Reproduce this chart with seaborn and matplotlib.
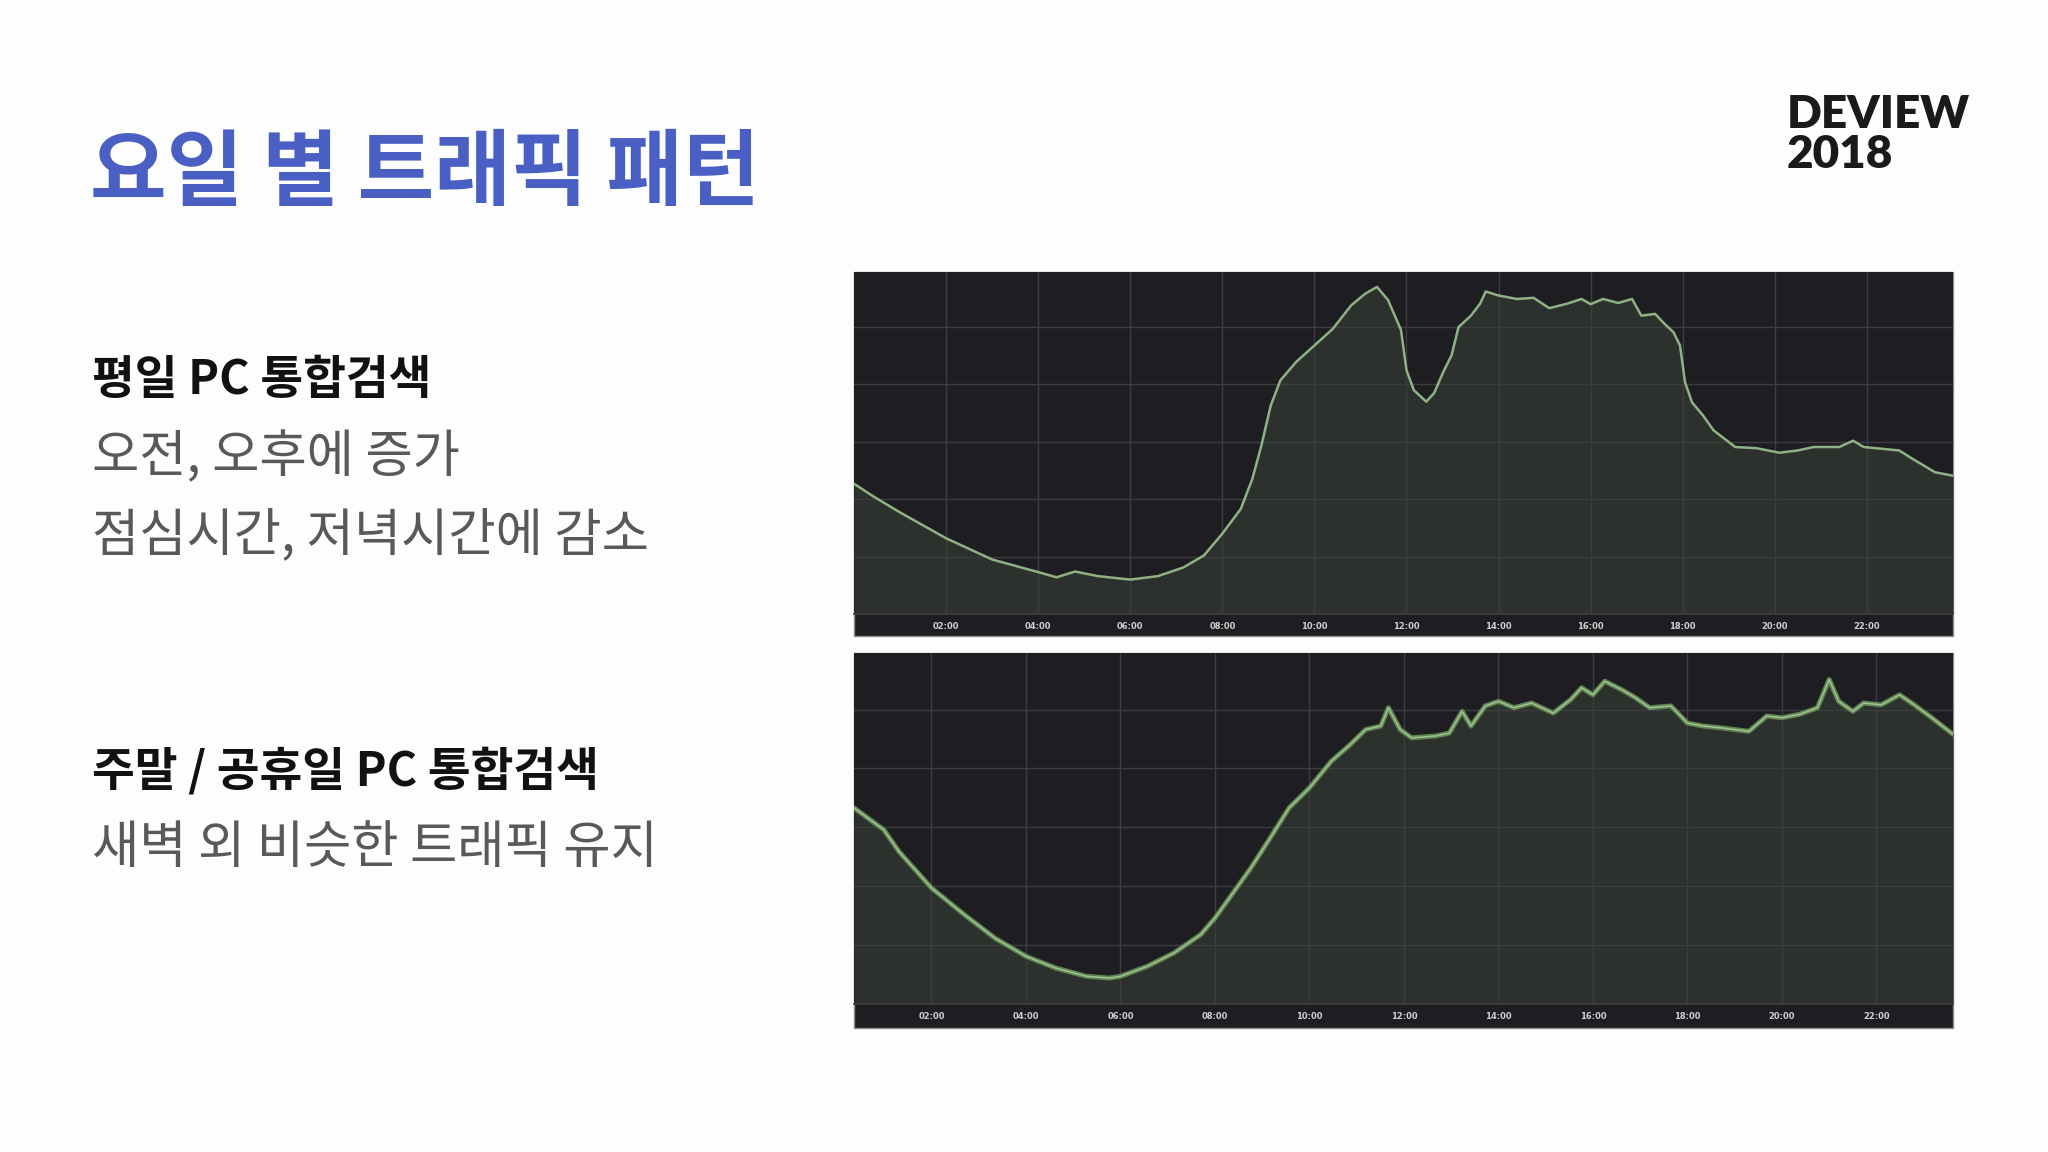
import matplotlib
matplotlib.use("Agg")
import matplotlib.pyplot as plt
import pandas as pd
import seaborn as sns
from matplotlib.patches import Rectangle

# weekday PC search traffic (hour of day, relative level)
weekday_hours = [0.0, 0.4, 1.0, 2.0, 3.0, 4.0, 4.4, 4.8, 5.3, 6.0, 6.6, 7.15, 7.6, 8.0,
                 8.4, 8.65, 8.85, 9.05, 9.26, 9.6, 10.0, 10.4, 10.8, 11.1, 11.36, 11.6,
                 11.88, 12.0, 12.16, 12.43, 12.6, 12.8, 12.98, 13.13, 13.4, 13.6, 13.72,
                 14.0, 14.4, 14.76, 15.1, 15.5, 15.8, 16.0, 16.27, 16.6, 16.9, 17.1, 17.4,
                 17.6, 17.8, 17.94, 18.05, 18.2, 18.44, 18.67, 19.14, 19.6, 20.1, 20.5,
                 20.84, 21.4, 21.7, 21.93, 22.7, 23.0, 23.48, 23.87]
weekday_traffic = [2.27, 2.06, 1.77, 1.32, 0.95, 0.73, 0.64, 0.74, 0.66, 0.60, 0.66, 0.81,
                   1.02, 1.40, 1.83, 2.35, 2.94, 3.63, 4.07, 4.39, 4.68, 4.97, 5.38, 5.58,
                   5.70, 5.47, 4.95, 4.25, 3.90, 3.70, 3.85, 4.22, 4.51, 5.00, 5.20, 5.41,
                   5.62, 5.55, 5.49, 5.51, 5.33, 5.41, 5.49, 5.40, 5.49, 5.42, 5.49, 5.20,
                   5.23, 5.06, 4.91, 4.68, 4.04, 3.69, 3.46, 3.20, 2.91, 2.89, 2.81, 2.85,
                   2.91, 2.91, 3.02, 2.91, 2.85, 2.70, 2.47, 2.41]

# weekend / holiday PC search traffic
weekend_hours = [0.36, 0.75, 0.99, 1.31, 2.0, 2.69, 3.34, 4.0, 4.63, 5.28, 5.77, 6.0, 6.57,
                 7.14, 7.7, 8.0, 8.36, 8.76, 9.17, 9.57, 10.0, 10.46, 10.87, 11.19, 11.51,
                 11.67, 11.92, 12.16, 12.66, 12.96, 13.23, 13.42, 13.72, 14.0, 14.33, 14.7,
                 15.16, 15.53, 15.76, 16.0, 16.25, 16.6, 16.9, 17.2, 17.65, 18.0, 18.33,
                 18.7, 19.3, 19.68, 20.0, 20.38, 20.75, 21.0, 21.2, 21.5, 21.73, 22.1,
                 22.49, 22.8, 23.17, 23.62]
weekend_traffic = [3.33, 3.10, 2.96, 2.59, 1.97, 1.52, 1.12, 0.81, 0.61, 0.47, 0.44, 0.47,
                   0.64, 0.87, 1.18, 1.46, 1.86, 2.31, 2.82, 3.33, 3.67, 4.12, 4.41, 4.66,
                   4.72, 5.03, 4.66, 4.52, 4.55, 4.60, 4.97, 4.72, 5.06, 5.14, 5.03, 5.11,
                   4.94, 5.17, 5.37, 5.25, 5.48, 5.34, 5.20, 5.03, 5.06, 4.77, 4.72, 4.69,
                   4.63, 4.89, 4.86, 4.92, 5.03, 5.51, 5.14, 4.97, 5.11, 5.08, 5.25, 5.08,
                   4.86, 4.58]

tick_hours = [2, 4, 6, 8, 10, 12, 14, 16, 18, 20, 22]
tick_labels = ["02:00", "04:00", "06:00", "08:00", "10:00", "12:00",
               "14:00", "16:00", "18:00", "20:00", "22:00"]

title = "요일 별 트래픽 패턴"
weekday_head = "평일 PC 통합검색"
weekday_notes = ["오전, 오후에 증가", "점심시간, 저녁시간에 감소"]
weekend_head = "주말 / 공휴일 PC 통합검색"
weekend_notes = ["새벽 외 비슷한 트래픽 유지"]

sns.set_theme(style="dark")
plt.rcParams['font.family'] = ['Noto Sans CJK KR', 'DejaVu Sans']

W, H = 2048, 1152
BG = "#1e1d21"
FILL = "#2c312d"
GRID = "#3d3c41"


def px_box(x0, y0, x1, y1):
    # pixel box (top-left origin) -> figure fraction [l, b, w, h]
    return [x0 / W, 1 - y1 / H, (x1 - x0) / W, (y1 - y0) / H]


def draw_panel(fig, hours, traffic, box, plot_bottom, xlim, lines):
    x0, y0, x1, y1 = box
    fig.patches.append(Rectangle((x0 / W, 1 - y1 / H), (x1 - x0) / W, (y1 - y0) / H,
                                 transform=fig.transFigure, facecolor=BG,
                                 edgecolor="#8c8c8c", linewidth=1.0, zorder=-5))
    ax = fig.add_axes(px_box(x0, y0, x1, plot_bottom))
    ax.set_zorder(2)
    ax.set_facecolor(BG)
    df = pd.DataFrame({"hour": hours, "traffic": traffic})
    ax.fill_between(df["hour"], df["traffic"], 0, color=FILL, zorder=1, linewidth=0)
    for lw, color in lines:
        sns.lineplot(data=df, x="hour", y="traffic", ax=ax, color=color,
                     linewidth=lw, zorder=3)
    ax.set_xlim(*xlim)
    ax.set_ylim(0, 5.96)
    ax.set_xticks(tick_hours)
    ax.set_xticklabels(tick_labels)
    ax.set_yticks([1, 2, 3, 4, 5])
    ax.set_yticklabels([])
    ax.grid(True, color=GRID, linewidth=1.0)
    ax.set_axisbelow(False)
    for g in ax.get_xgridlines() + ax.get_ygridlines():
        g.set_zorder(2)
    ax.tick_params(axis="x", length=0, pad=6, labelsize=6, labelcolor="#cfcfcf")
    ax.tick_params(axis="y", length=0)
    for lab in ax.get_xticklabels():
        lab.set_family("DejaVu Sans")
        lab.set_fontweight("bold")
    ax.set_xlabel("")
    ax.set_ylabel("")
    for s in ["top", "left", "right"]:
        ax.spines[s].set_visible(False)
    ax.spines["bottom"].set_color(GRID)
    return ax


fig = plt.figure(figsize=(20.48, 11.52), dpi=100)
fig.patch.set_facecolor("#fdfdfd")

draw_panel(fig, weekday_hours, weekday_traffic, (854, 272, 1953, 636), 614,
           (0.0, 23.87), [(1.8, "#8fb285")])
draw_panel(fig, weekend_hours, weekend_traffic, (854, 653, 1953, 1028), 1004,
           (0.36, 23.62), [(3.6, "#5f8452"), (1.1, "#a2c393")])

fig.text(90 / W, 1 - 175 / H, title, fontsize=60, fontweight="bold",
         color="#4a5fc4", va="center", ha="left")

fig.text(92 / W, 1 - 380 / H, weekday_head, fontsize=33.5, fontweight="bold",
         color="#111111", va="center", ha="left")
for i, note in enumerate(weekday_notes):
    fig.text(92 / W, 1 - (457 + 79 * i) / H, note, fontsize=37,
             color="#595959", va="center", ha="left")

fig.text(92 / W, 1 - 772 / H, weekend_head, fontsize=33.5, fontweight="bold",
         color="#111111", va="center", ha="left")
for i, note in enumerate(weekend_notes):
    fig.text(92 / W, 1 - (848 + 79 * i) / H, note, fontsize=37,
             color="#595959", va="center", ha="left")

fig.text(1787 / W, 1 - 114 / H, "DEVIEW", fontsize=33, fontweight="heavy",
         family="Lato", color="#1a1a1a", va="center", ha="left")
fig.text(1787 / W, 1 - 154 / H, "2018", fontsize=33, fontweight="heavy",
         family="Lato", color="#1a1a1a", va="center", ha="left")

fig.savefig("out.png", dpi=100, facecolor=fig.get_facecolor())
